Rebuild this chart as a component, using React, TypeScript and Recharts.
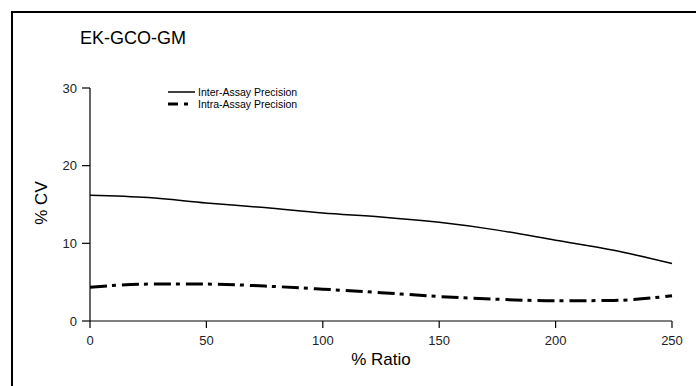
import React from 'react';
import { LineChart, Line, XAxis, YAxis } from 'recharts';

const ratio = [0, 25, 50, 75, 100, 125, 150, 175, 200, 225, 250];
const interAssay = [16.2, 15.9, 15.2, 14.6, 13.9, 13.4, 12.7, 11.7, 10.4, 9.1, 7.4];
const intraAssay = [4.35, 4.75, 4.75, 4.5, 4.1, 3.65, 3.15, 2.8, 2.6, 2.65, 3.25];
const xMinor = [25, 75, 125, 175, 225];
const yMinor = [5, 15, 25];
const xMajor = [0, 50, 100, 150, 200, 250];
const yMajor = [0, 10, 20, 30];
const seriesNames = ['Inter-Assay Precision', 'Intra-Assay Precision'];

const data = ratio.map((r, i) => ({ ratio: r, inter: interAssay[i], intra: intraAssay[i] }));

const FONT = 'Arial, "Liberation Sans", sans-serif';
const tickText = { fontSize: 13, fontFamily: FONT, fill: '#222' };
const EmptyTick = () => <g />;

export default function App() {
  return (
    <div style={{ position: 'absolute', left: 0, top: 0, width: 696, height: 386, background: '#fff', overflow: 'hidden' }}>
      <div style={{ position: 'absolute', left: 11, top: 11, width: 720, height: 420, borderLeft: '2px solid #000', borderTop: '2px solid #000' }} />
      <div style={{ position: 'absolute', left: 80, top: 28, fontFamily: FONT, fontSize: 18, color: '#000', lineHeight: '20px' }}>EK-GCO-GM</div>
      <div style={{ position: 'absolute', left: 42, top: 203, transform: 'translate(-50%, -50%) rotate(-90deg)', fontFamily: FONT, fontSize: 17, color: '#000', whiteSpace: 'nowrap' }}>% CV</div>
      <div style={{ position: 'absolute', left: 381, top: 360, transform: 'translate(-50%, -50%)', fontFamily: FONT, fontSize: 17, color: '#000', whiteSpace: 'nowrap' }}>% Ratio</div>
      <LineChart width={696} height={386} data={data} margin={{ top: 88, right: 24, bottom: 35, left: 50 }} style={{ position: 'absolute', left: 0, top: 0 }}>
        <XAxis xAxisId="minor" dataKey="ratio" type="number" domain={[0, 250]} ticks={xMinor} tick={<EmptyTick />} tickSize={4} tickLine={{ stroke: '#000', strokeWidth: 1.2 }} axisLine={false} interval={0} height={0} />
        <XAxis xAxisId="main" dataKey="ratio" type="number" domain={[0, 250]} ticks={xMajor} tick={tickText} tickSize={7} tickMargin={8} tickLine={{ stroke: '#000', strokeWidth: 1.2 }} axisLine={{ stroke: '#000', strokeWidth: 1.2 }} interval={0} height={30} />
        <YAxis yAxisId="minor" type="number" domain={[0, 30]} ticks={yMinor} tick={<EmptyTick />} tickSize={4} tickLine={{ stroke: '#000', strokeWidth: 1.2 }} axisLine={false} interval={0} width={0} />
        <YAxis yAxisId="main" type="number" domain={[0, 30]} ticks={yMajor} tick={tickText} tickSize={8} tickMargin={5} tickLine={{ stroke: '#000', strokeWidth: 1.2 }} axisLine={{ stroke: '#000', strokeWidth: 1.2 }} interval={0} width={40} />
        <Line xAxisId="main" yAxisId="main" type="monotone" dataKey="inter" name={seriesNames[0]} stroke="#000" strokeWidth={1.5} dot={false} isAnimationActive={false} />
        <Line xAxisId="main" yAxisId="main" type="monotone" dataKey="intra" name={seriesNames[1]} stroke="#000" strokeWidth={3} strokeDasharray="17 5 4 6" dot={false} isAnimationActive={false} />
      </LineChart>
      <svg width={160} height={28} style={{ position: 'absolute', left: 168, top: 86 }}>
        <line x1={0} x2={27} y1={6} y2={6} stroke="#000" strokeWidth={1.5} />
        <text x={30} y={10} fontSize={10.5} fontFamily={FONT} fill="#000">{seriesNames[0]}</text>
        <line x1={0} x2={10} y1={18} y2={18} stroke="#000" strokeWidth={3} />
        <line x1={16} x2={20} y1={18} y2={18} stroke="#000" strokeWidth={3} />
        <text x={30} y={22} fontSize={10.5} fontFamily={FONT} fill="#000">{seriesNames[1]}</text>
      </svg>
    </div>
  );
}
